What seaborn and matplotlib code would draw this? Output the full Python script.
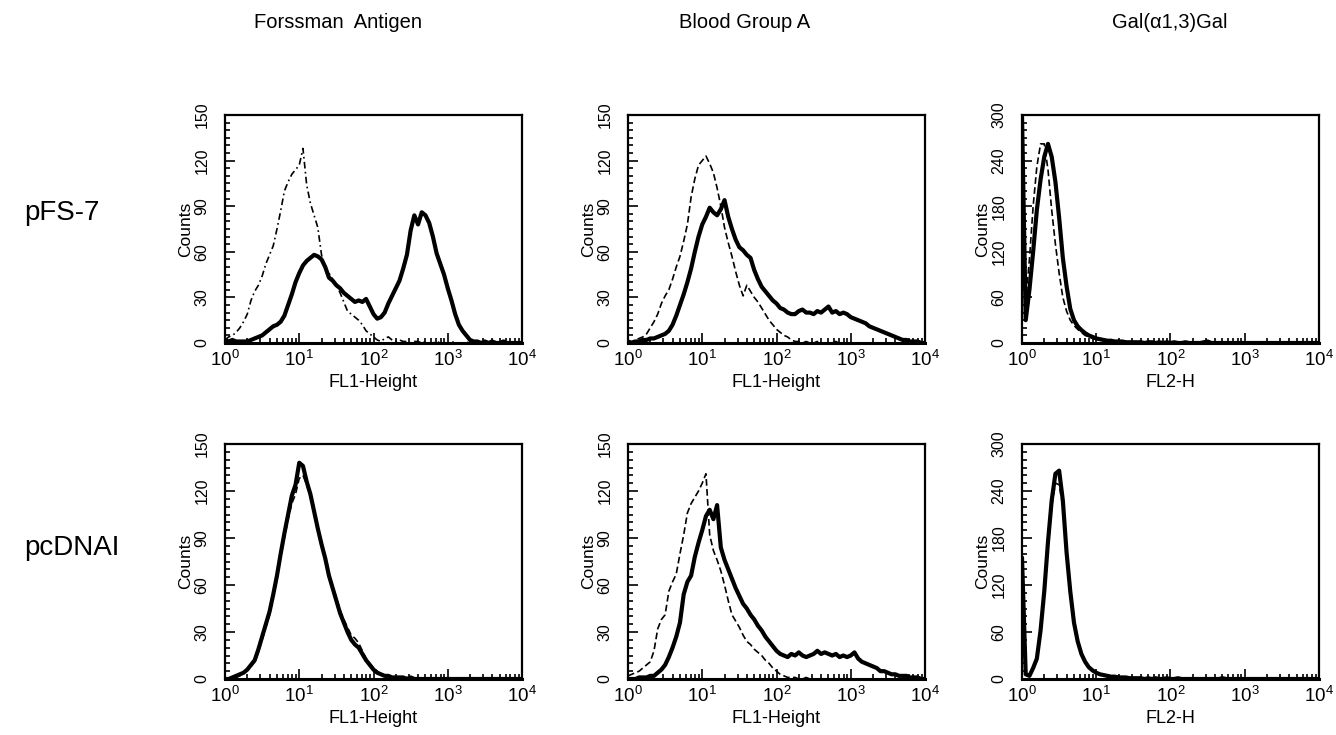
import numpy as np
import pandas as pd
import seaborn as sns
import matplotlib.pyplot as plt
from matplotlib.ticker import MultipleLocator, LogLocator, NullFormatter

sns.set_theme(style='white')
plt.rcParams['font.family'] = ['Liberation Sans', 'DejaVu Sans']
plt.rcParams['mathtext.fontset'] = 'custom'
plt.rcParams['mathtext.rm'] = 'Liberation Sans'

# 通道位置 (log10), 0 ~ 4, 每 0.05 一个通道
log_pos = np.round(np.arange(81) * 0.05, 2)

col_titles = ['Forssman  Antigen', 'Blood Group A', 'Gal(\u03b11,3)Gal']
row_labels = ['pFS-7', 'pcDNAI']
x_labels = ['FL1-Height', 'FL1-Height', 'FL2-H']
y_max = [150, 150, 300]
y_step = [30, 30, 60]

# pFS-7 / Forssman
fs_pfs_solid = [2, 1, 2, 1, 1, 1, 1, 2, 3, 4, 5, 7, 9, 11, 12, 14, 18, 25, 32, 40,
                46, 51, 54, 56, 58, 57, 55, 50, 43, 41, 38, 36, 33, 31, 29, 27, 28, 27, 29, 24,
                19, 16, 17, 20, 26, 31, 36, 41, 49, 58, 74, 84, 78, 86, 84, 79, 70, 59, 52, 45,
                36, 28, 19, 12, 8, 5, 2, 1, 1, 0, 1, 0, 1, 0, 0, 1, 0, 0, 0, 0, 0]
fs_pfs_dash = [2, 4, 5, 7, 10, 14, 19, 28, 34, 38, 44, 52, 58, 64, 75, 87, 100, 106, 111, 114,
               117, 128, 104, 92, 84, 76, 58, 50, 46, 42, 38, 33, 27, 21, 19, 17, 15, 12, 8, 6,
               4, 2, 1, 3, 4, 2, 1, 2, 1, 1, 0, 1, 1, 0, 1, 0, 0, 1, 0, 0,
               0, 1, 0, 0, 0, 0, 1, 0, 0, 0, 0, 0, 0, 0, 0, 0, 0, 0, 0, 0, 0]
# pFS-7 / Blood Group A
bg_pfs_solid = [1, 0, 1, 1, 2, 2, 3, 3, 4, 5, 6, 8, 12, 18, 25, 32, 40, 49, 60, 70,
                78, 83, 89, 86, 84, 88, 94, 83, 75, 68, 63, 61, 58, 56, 48, 42, 37, 34, 31, 28,
                26, 23, 22, 20, 19, 19, 21, 22, 20, 20, 19, 21, 20, 22, 24, 20, 21, 19, 20, 19,
                17, 16, 15, 14, 13, 11, 10, 9, 8, 7, 6, 5, 4, 3, 2, 2, 1, 1, 1, 0, 0]
bg_pfs_dash = [1, 1, 2, 3, 4, 6, 10, 14, 19, 26, 31, 35, 42, 50, 57, 67, 78, 96, 108, 117,
               120, 123, 118, 112, 102, 90, 76, 66, 57, 47, 38, 31, 38, 34, 30, 27, 23, 19, 15, 12,
               9, 7, 5, 4, 2, 1, 1, 0, 1, 0, 0, 1, 0, 0, 0, 0, 1, 0, 0, 0,
               0, 0, 0, 0, 0, 0, 0, 0, 0, 0, 0, 0, 0, 0, 0, 0, 0, 0, 0, 0, 0]
# pFS-7 / Gal
gal_pfs_solid = [300, 30, 70, 120, 175, 215, 245, 262, 245, 212, 165, 112, 75, 45, 30, 22, 17, 13, 10, 8,
                 6, 5, 4, 3, 3, 2, 2, 2, 1, 1, 1, 1, 1, 0, 1, 1, 0, 1, 0, 1,
                 0, 1, 0, 0, 1, 0, 0, 0, 0, 1, 2, 0, 0, 0, 0, 0, 0, 0, 0, 0,
                 0, 0, 0, 0, 0, 0, 0, 0, 0, 0, 0, 0, 0, 0, 0, 0, 0, 0, 0, 0, 0]
gal_pfs_dash = [150, 55, 110, 180, 232, 262, 262, 228, 175, 130, 92, 60, 42, 30, 23, 18, 14, 10, 8, 6,
                5, 4, 3, 2, 2, 2, 1, 1, 1, 1, 0, 1, 0, 1, 0, 0, 1, 0, 0, 0,
                0, 0, 0, 0, 0, 0, 0, 0, 0, 0, 0, 0, 0, 0, 0, 0, 0, 0, 0, 0,
                0, 0, 0, 0, 0, 0, 0, 0, 0, 0, 0, 0, 0, 0, 0, 0, 0, 0, 0, 0, 0]

# pcDNAI / Forssman
fs_pc_solid = [0, 0, 1, 2, 3, 4, 6, 9, 12, 19, 27, 35, 43, 54, 66, 80, 93, 105, 117, 124,
               138, 136, 126, 118, 107, 96, 86, 77, 66, 58, 50, 42, 36, 30, 25, 22, 20, 16, 12, 9,
               6, 4, 3, 2, 2, 1, 1, 1, 1, 0, 1, 0, 0, 0, 0, 0, 0, 0, 0, 0,
               0, 0, 0, 0, 0, 0, 0, 0, 0, 0, 0, 0, 0, 0, 0, 0, 0, 0, 0, 0, 0]
fs_pc_dash = [0, 0, 1, 1, 2, 4, 6, 8, 11, 17, 25, 33, 41, 52, 64, 78, 90, 102, 112, 118,
              128, 130, 124, 116, 105, 95, 85, 76, 67, 59, 52, 44, 38, 33, 28, 26, 23, 18, 13, 10,
              7, 5, 3, 2, 2, 1, 1, 1, 0, 1, 0, 0, 0, 0, 0, 0, 0, 0, 0, 0,
              0, 0, 0, 0, 0, 0, 0, 0, 0, 0, 0, 0, 0, 0, 0, 0, 0, 0, 0, 0, 0]
# pcDNAI / Blood Group A
bg_pc_solid = [0, 0, 0, 1, 1, 1, 2, 2, 4, 6, 9, 14, 20, 27, 36, 54, 62, 66, 78, 87,
               95, 104, 108, 102, 111, 84, 76, 70, 64, 58, 53, 48, 45, 41, 38, 34, 31, 27, 24, 21,
               18, 16, 15, 14, 16, 15, 17, 15, 14, 15, 16, 18, 16, 17, 16, 15, 16, 14, 15, 14,
               15, 17, 13, 11, 10, 9, 8, 7, 5, 5, 4, 3, 3, 2, 2, 2, 1, 1, 1, 0, 0]
bg_pc_dash = [2, 3, 4, 5, 7, 9, 11, 18, 32, 38, 41, 56, 62, 67, 80, 92, 106, 112, 116, 120,
              125, 131, 92, 82, 76, 69, 60, 50, 41, 37, 33, 28, 24, 22, 19, 17, 15, 12, 10, 7,
              5, 3, 2, 1, 1, 1, 0, 0, 1, 0, 0, 0, 0, 0, 0, 0, 0, 0, 0, 0,
              0, 0, 0, 0, 0, 0, 0, 0, 0, 0, 0, 0, 0, 0, 0, 0, 0, 0, 0, 0, 0]
# pcDNAI / Gal
gal_pc_solid = [155, 6, 4, 14, 26, 62, 112, 175, 228, 262, 266, 228, 162, 112, 72, 48, 32, 22, 15, 11,
                8, 6, 5, 4, 3, 3, 2, 2, 2, 1, 1, 1, 1, 0, 1, 0, 1, 0, 0, 1,
                0, 0, 1, 0, 0, 0, 0, 0, 0, 0, 0, 0, 0, 0, 1, 0, 0, 0, 0, 0,
                0, 0, 0, 0, 0, 0, 0, 0, 0, 0, 0, 0, 0, 0, 0, 0, 0, 0, 0, 0, 0]
gal_pc_dash = [150, 5, 5, 13, 25, 58, 108, 168, 220, 250, 248, 220, 160, 110, 72, 48, 31, 21, 15, 10,
               8, 6, 4, 3, 3, 2, 2, 1, 1, 1, 1, 0, 1, 0, 0, 1, 0, 0, 0, 0,
               0, 0, 0, 0, 0, 0, 0, 0, 0, 0, 0, 0, 0, 0, 0, 0, 0, 0, 0, 0,
               0, 0, 0, 0, 0, 0, 0, 0, 0, 0, 0, 0, 0, 0, 0, 0, 0, 0, 0, 0, 0]

curves = [[(fs_pfs_solid, fs_pfs_dash), (bg_pfs_solid, bg_pfs_dash), (gal_pfs_solid, gal_pfs_dash)],
          [(fs_pc_solid, fs_pc_dash), (bg_pc_solid, bg_pc_dash), (gal_pc_solid, gal_pc_dash)]]

W, H = 1336, 735
fig = plt.figure(figsize=(W / 100, H / 100), dpi=100)

col_left = [225, 628, 1022]
ax_w = 297
row_top = [115, 444]
row_h = [228, 235]

for r in range(2):
    for c in range(3):
        ax = fig.add_axes([col_left[c] / W, 1 - (row_top[r] + row_h[r]) / H,
                           ax_w / W, row_h[r] / H])
        solid, dash = curves[r][c]
        df = pd.DataFrame({'ch': 10 ** log_pos, 'solid': solid, 'dash': dash})
        ls = (0, (4, 2, 1, 2)) if (r == 0 and c == 0) else (0, (4, 2))
        sns.lineplot(data=df, x='ch', y='dash', ax=ax, color='black', lw=1.2,
                     linestyle=ls, errorbar=None)
        sns.lineplot(data=df, x='ch', y='solid', ax=ax, color='black', lw=3.0,
                     errorbar=None)
        ax.set_xscale('log')
        ax.set_xlim(1, 1e4)
        ax.set_ylim(0, y_max[c])
        ax.xaxis.set_major_locator(LogLocator(base=10, numticks=10))
        ax.xaxis.set_minor_locator(LogLocator(base=10, subs=np.arange(2, 10), numticks=10))
        ax.xaxis.set_minor_formatter(NullFormatter())
        ax.yaxis.set_major_locator(MultipleLocator(y_step[c]))
        ax.yaxis.set_minor_locator(MultipleLocator(y_step[c] / 6))
        ax.tick_params(which='both', direction='in', color='black', width=1.2,
                       bottom=True, left=True, top=False, right=False)
        ax.tick_params(which='major', length=7)
        ax.tick_params(which='minor', length=3.5)
        ax.tick_params(axis='x', which='major', labelsize=13.5, pad=5, labelcolor='black')
        ax.tick_params(axis='y', which='major', labelsize=11.5, pad=11, labelcolor='black',
                       labelrotation=90)
        for lab in ax.get_yticklabels():
            lab.set_va('center')
        for sp in ax.spines.values():
            sp.set_visible(True)
            sp.set_color('black')
            sp.set_linewidth(1.6)
        ax.spines['bottom'].set_linewidth(2.2)
        ax.set_xlabel(x_labels[c], fontsize=13, labelpad=3, color='black')
        ax.set_ylabel('Counts', fontsize=12.5, labelpad=1, color='black')
        ax.grid(False)

title_x = [338, 745, 1170]
for c in range(3):
    fig.text(title_x[c] / W, 1 - 22 / H, col_titles[c], ha='center', va='center',
             fontsize=14.5, color='black')
row_y = [213, 548]
for r in range(2):
    fig.text(24 / W, 1 - row_y[r] / H, row_labels[r], ha='left', va='center',
             fontsize=20, color='black')

fig.savefig('out.png', dpi=100)
